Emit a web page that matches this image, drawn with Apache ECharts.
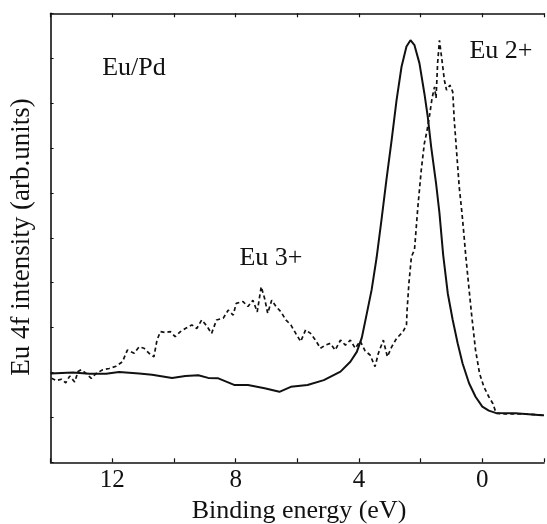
<!DOCTYPE html>
<html>
<head>
<meta charset="utf-8">
<script src="https://cdn.jsdelivr.net/npm/echarts@6/dist/echarts.min.js"></script>
<style>
html,body{margin:0;padding:0;background:#fff;}
#chart{width:547px;height:524px;}
</style>
</head>
<body>
<div id="chart"></div>
<script>
// Binding energy (eV) and intensity (arb. units) of the solid curve
var solidEnergy = [14.0, 13.28, 12.74, 12.20, 11.78, 11.13, 10.71, 10.06, 9.63, 9.21, 8.89, 8.56, 8.03, 7.60, 7.06, 6.58, 6.21, 5.67, 5.14, 4.60, 4.28, 4.07, 3.91, 3.75, 3.59, 3.43, 3.27, 3.11, 2.94, 2.78, 2.62, 2.46, 2.33, 2.20, 2.04, 1.88, 1.77, 1.66, 1.50, 1.39, 1.27, 1.12, 0.96, 0.80, 0.64, 0.43, 0.22, 0.0, -0.21, -0.43, -1.07, -1.93, -2.0];
var solidIntensity = [19.8, 20.0, 19.7, 19.7, 20.1, 19.8, 19.5, 18.8, 19.2, 19.4, 18.8, 18.7, 17.2, 17.2, 16.5, 15.7, 16.8, 17.2, 18.3, 20.2, 22.4, 24.6, 27.7, 33.0, 38.4, 45.5, 54.0, 62.9, 71.8, 80.7, 88.1, 92.6, 94.0, 92.9, 88.9, 82.2, 77.0, 70.3, 62.1, 55.5, 46.2, 37.6, 31.7, 26.5, 22.0, 17.6, 14.6, 12.4, 11.5, 11.0, 10.9, 10.5, 10.5];

// Dashed curve
var dashedEnergy = [13.97, 13.81, 13.65, 13.51, 13.38, 13.22, 13.11, 13.01, 12.85, 12.68, 12.52, 12.31, 12.10, 11.88, 11.67, 11.51, 11.29, 11.13, 10.97, 10.81, 10.65, 10.55, 10.44, 10.28, 10.12, 9.96, 9.79, 9.63, 9.42, 9.26, 9.10, 8.94, 8.78, 8.62, 8.40, 8.24, 8.08, 7.98, 7.76, 7.60, 7.44, 7.30, 7.17, 7.06, 6.96, 6.83, 6.69, 6.53, 6.37, 6.21, 6.05, 5.89, 5.73, 5.57, 5.41, 5.25, 5.09, 4.93, 4.77, 4.60, 4.44, 4.28, 4.12, 3.96, 3.80, 3.64, 3.48, 3.37, 3.21, 3.08, 2.94, 2.78, 2.57, 2.46, 2.44, 2.38, 2.30, 2.20, 2.09, 1.98, 1.88, 1.80, 1.71, 1.63, 1.55, 1.50, 1.45, 1.39, 1.31, 1.23, 1.16, 1.05, 0.96, 0.91, 0.83, 0.75, 0.66, 0.59, 0.54, 0.45, 0.34, 0.22, 0.09, -0.05, -0.21, -0.34, -0.45, -0.64, -1.28, -1.93, -2.0];
var dashedIntensity = [18.7, 18.2, 18.5, 17.7, 19.2, 17.9, 20.2, 20.6, 19.8, 18.7, 19.8, 20.6, 20.9, 21.4, 22.4, 25.0, 24.3, 25.7, 25.4, 24.3, 23.5, 27.2, 29.1, 28.9, 29.1, 28.0, 29.1, 29.8, 30.6, 29.8, 31.7, 30.4, 28.7, 31.7, 32.1, 33.9, 32.8, 35.4, 35.8, 34.7, 36.1, 33.5, 39.1, 36.5, 33.2, 36.1, 34.7, 33.5, 31.7, 30.6, 28.7, 26.9, 29.5, 28.7, 27.2, 25.4, 26.1, 26.5, 25.0, 27.2, 26.1, 27.2, 25.4, 27.0, 24.8, 23.9, 21.3, 24.3, 27.2, 23.5, 25.7, 27.6, 29.1, 30.6, 33.9, 39.9, 45.8, 47.3, 56.9, 65.1, 71.0, 73.6, 77.3, 81.1, 83.6, 81.1, 88.9, 94.0, 89.6, 85.1, 82.9, 84.0, 82.5, 76.2, 68.8, 61.4, 55.5, 50.2, 46.2, 39.9, 32.4, 25.0, 19.8, 16.8, 14.6, 13.1, 10.9, 10.8, 10.8, 10.5, 10.5];

var xTicksLabeled = [12, 8, 4, 0];
var xTitle = 'Binding energy (eV)';
var yTitle = 'Eu 4f intensity (arb.units)';
var annotations = ['Eu/Pd', 'Eu 2+', 'Eu 3+'];

function pairs(xs, ys) {
  var out = [];
  for (var i = 0; i < xs.length; i++) out.push([xs[i], ys[i]]);
  return out;
}

var FONT = '"Liberation Serif", "DejaVu Serif", serif';
var INK = '#111';

var chart = echarts.init(document.getElementById('chart'), null, {renderer: 'canvas'});
var axisCommon = {
  type: 'value', inverse: true, min: -2, max: 14, interval: 2,
  axisLine: {show: true, onZero: false, lineStyle: {color: INK, width: 1.6}},
  axisTick: {show: true, inside: true, length: 4, lineStyle: {color: INK, width: 1.2}},
  splitLine: {show: false}
};
chart.setOption({
  animation: false,
  backgroundColor: '#fff',
  grid: {left: 50.6, top: 13.3, width: 498.2, height: 449, containLabel: false},
  xAxis: [
    Object.assign({}, axisCommon, {
      position: 'bottom',
      axisLabel: {
        show: true, margin: 18, verticalAlign: 'middle',
        fontFamily: FONT, fontSize: 25, color: INK,
        formatter: function (v) { return xTicksLabeled.indexOf(v) >= 0 ? String(v) : ''; }
      }
    }),
    Object.assign({}, axisCommon, {
      position: 'top',
      axisLabel: {show: false}
    })
  ],
  yAxis: {
    type: 'value', min: 0, max: 100, interval: 10, position: 'left',
    axisLine: {show: true, onZero: false, lineStyle: {color: INK, width: 1.6}},
    axisTick: {show: true, inside: true, length: 3, lineStyle: {color: INK, width: 1}},
    axisLabel: {show: false},
    splitLine: {show: false}
  },
  series: [
    {
      type: 'line', xAxisIndex: 0, data: pairs(solidEnergy, solidIntensity),
      showSymbol: false, symbol: 'none', smooth: false,
      lineStyle: {color: INK, width: 2}
    },
    {
      type: 'line', xAxisIndex: 0, data: pairs(dashedEnergy, dashedIntensity),
      showSymbol: false, symbol: 'none', smooth: false,
      lineStyle: {color: INK, width: 1.7, type: [4, 3]}
    }
  ],
  graphic: [
    {type: 'text', x: 134, y: 68.5, style: {text: annotations[0], font: '26px ' + FONT, fill: INK, align: 'center', verticalAlign: 'middle'}},
    {type: 'text', x: 501, y: 51, style: {text: annotations[1], font: '26px ' + FONT, fill: INK, align: 'center', verticalAlign: 'middle'}},
    {type: 'text', x: 271, y: 258, style: {text: annotations[2], font: '26px ' + FONT, fill: INK, align: 'center', verticalAlign: 'middle'}},
    {type: 'text', x: 299, y: 511, style: {text: xTitle, font: '26px ' + FONT, fill: INK, align: 'center', verticalAlign: 'middle'}},
    {type: 'text', x: 22, y: 237, rotation: Math.PI / 2, style: {text: yTitle, font: '27px ' + FONT, fill: INK, align: 'center', verticalAlign: 'middle'}}
  ]
});
</script>
</body>
</html>
